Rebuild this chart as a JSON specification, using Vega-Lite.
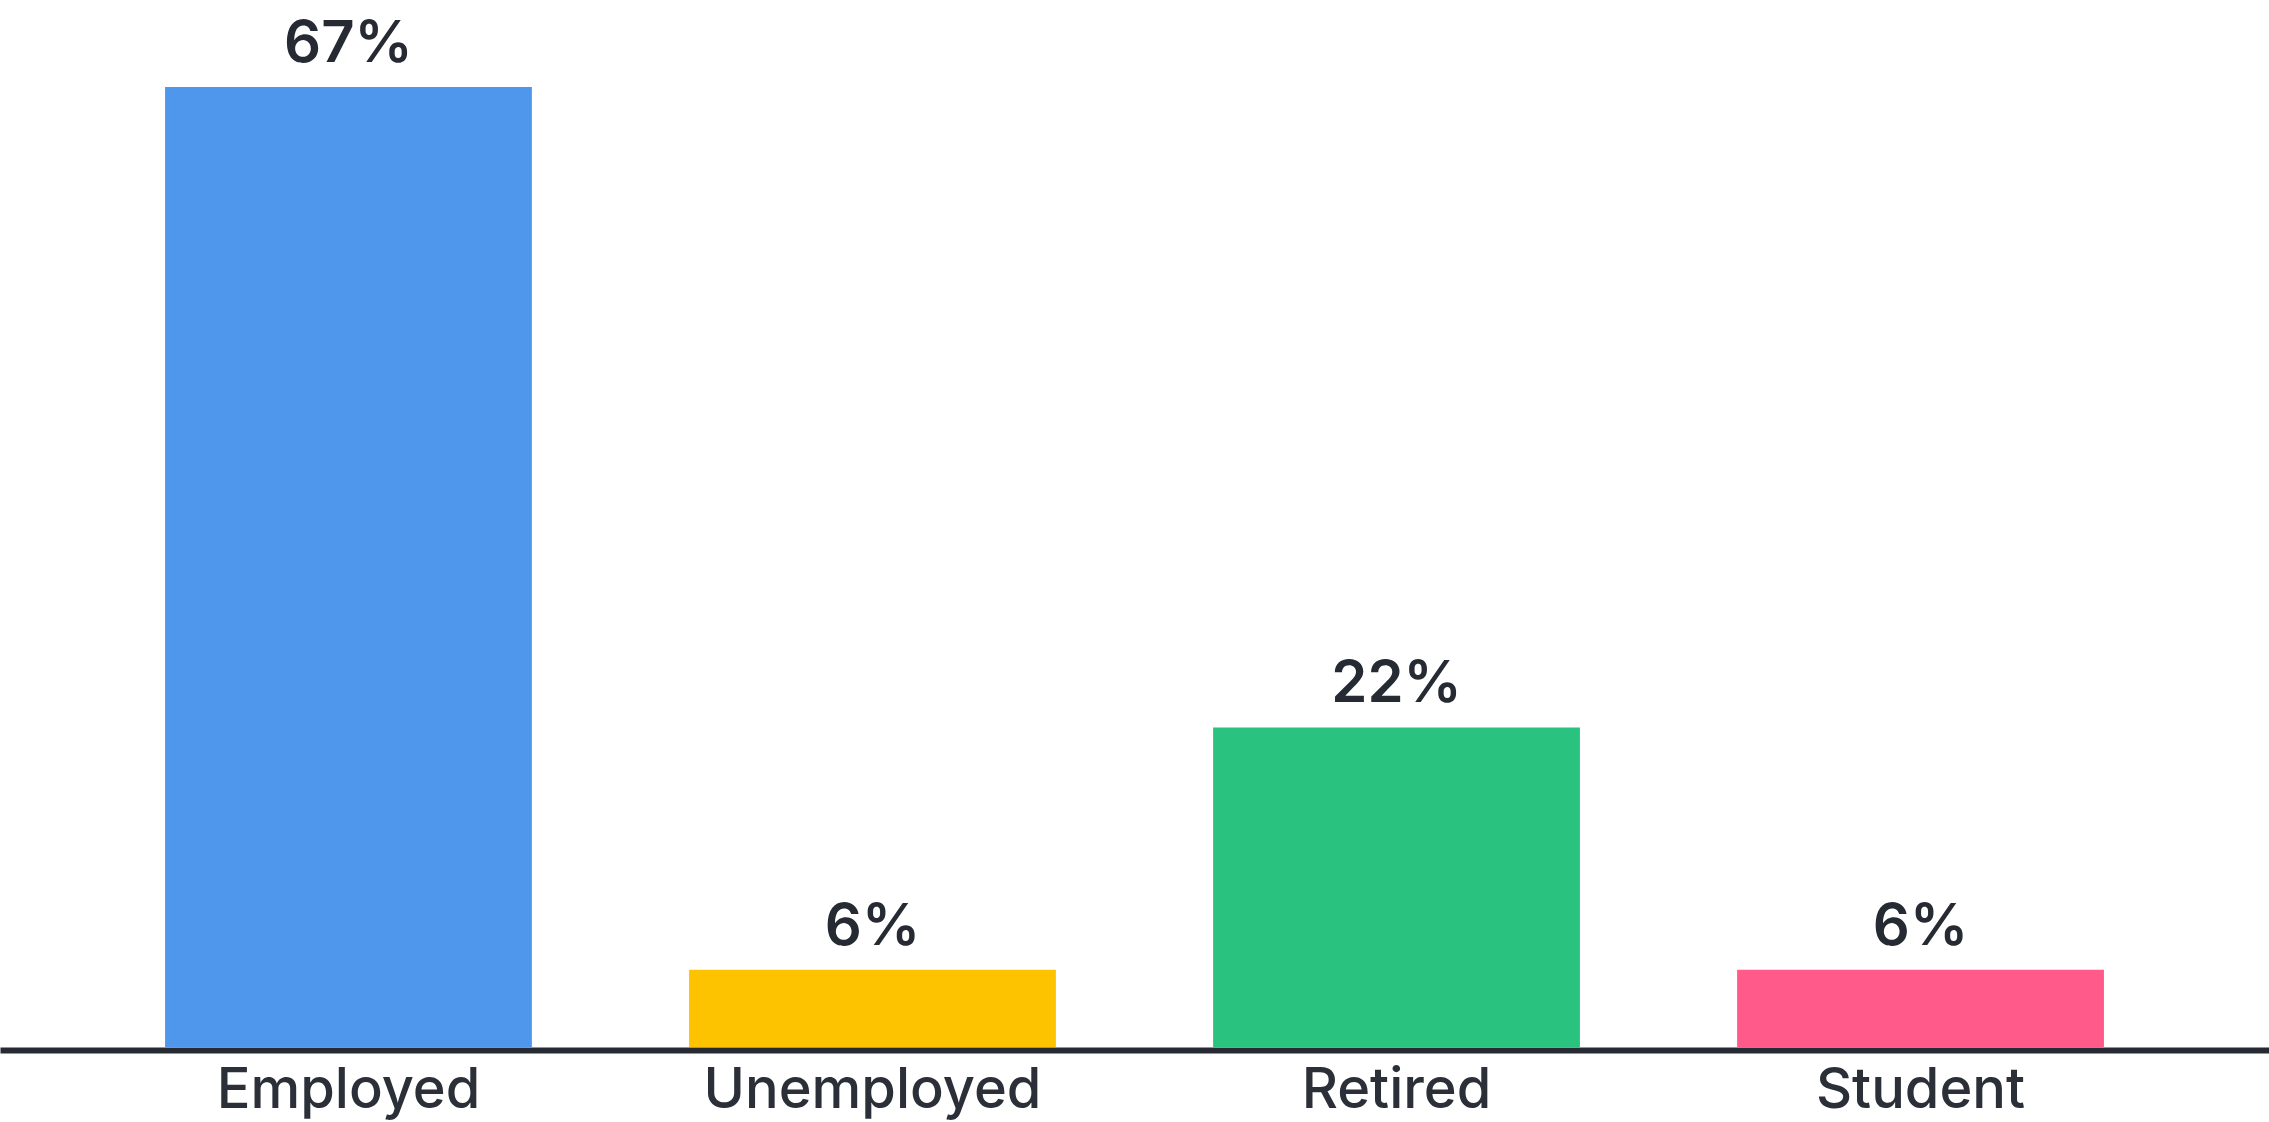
{
  "$schema": "https://vega.github.io/schema/vega-lite/v6.json",
  "width": 2269,
  "height": 960,
  "autosize": {"type": "none"},
  "padding": {"top": 87, "left": 0, "right": 0, "bottom": 75},
  "background": "white",
  "config": {"view": {"stroke": null}},
  "data": {
    "values": [
      {"status": "Employed", "value": 67, "label": "67%"},
      {"status": "Unemployed", "value": 5.4, "label": "6%"},
      {"status": "Retired", "value": 22.3, "label": "22%"},
      {"status": "Student", "value": 5.4, "label": "6%"}
    ]
  },
  "encoding": {
    "x": {
      "field": "status",
      "type": "nominal",
      "sort": null,
      "scale": {"paddingInner": 0.3, "paddingOuter": 0.315},
      "axis": {
        "title": null,
        "labelAngle": 0,
        "ticks": false,
        "domainColor": "#262a33",
        "domainWidth": 6,
        "domainCap": "butt",
        "offset": 3,
        "labelFont": "Inter",
        "labelFontSize": 56,
        "labelFontWeight": 500,
        "labelColor": "#2b2f38",
        "labelPadding": 57,
        "labelLimit": 0,
        "labelOverlap": false,
        "labelBaseline": "alphabetic",
        "zindex": 1
      }
    },
    "y": {
      "field": "value",
      "type": "quantitative",
      "scale": {"domain": [0, 67], "nice": false, "zero": true},
      "axis": null
    }
  },
  "layer": [
    {
      "mark": {"type": "bar"},
      "encoding": {
        "color": {
          "field": "status",
          "type": "nominal",
          "sort": null,
          "scale": {
            "domain": ["Employed", "Unemployed", "Retired", "Student"],
            "range": ["#4e97ec", "#fdc300", "#29c27f", "#ff5a8a"]
          },
          "legend": null
        }
      }
    },
    {
      "mark": {
        "type": "text",
        "dy": -25,
        "baseline": "alphabetic",
        "font": "Inter",
        "fontSize": 58,
        "fontWeight": 600,
        "color": "#262a33"
      },
      "encoding": {"text": {"field": "label", "type": "nominal"}}
    }
  ]
}
